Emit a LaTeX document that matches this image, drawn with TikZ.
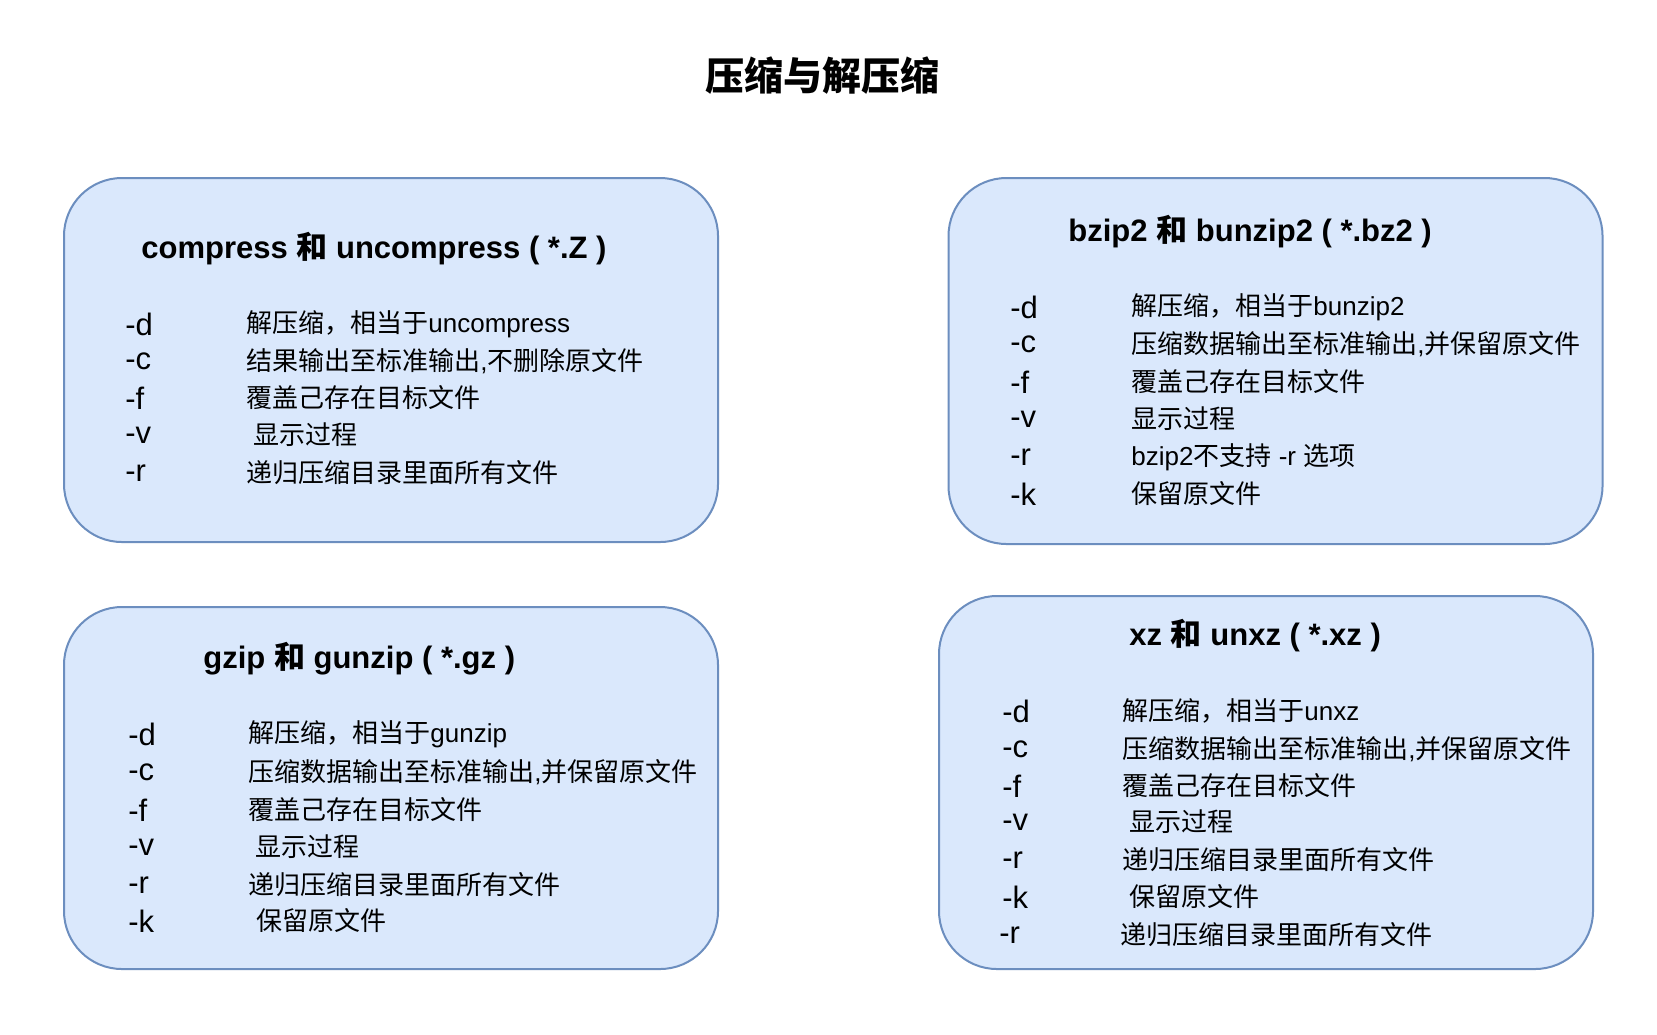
\documentclass[tikz,border=0pt]{standalone}
\usepackage{fontspec}
\setmainfont{Liberation Sans}
\newfontfamily\cjk{Noto Sans CJK SC}
\newcommand{\zhs}[1]{{\cjk #1}}
\definecolor{boxfill}{HTML}{DAE8FC}
\definecolor{boxline}{HTML}{6C8EBF}
\tikzset{
  box/.style={draw=boxline, fill=boxfill, line width=1pt, rounded corners=29pt,
    minimum width=327pt, inner sep=0pt},
  title/.style={inner sep=0pt, font=\fontsize{19.5}{22}\selectfont\bfseries},
  head/.style={anchor=west, inner sep=0pt, font=\fontsize{15.5}{18}\selectfont\bfseries},
  flag/.style={anchor=west, inner sep=0pt, font=\fontsize{15.5}{18}\selectfont},
  opt/.style={anchor=west, inner sep=0pt, font=\fontsize{13}{16}\selectfont},
}
\begin{document}
\begin{tikzpicture}[x=0.5pt, y=-0.5pt]
    \useasboundingbox[fill=white] (0,0) rectangle (1657,1034);

    % titolo
    \node[title] (title) at (822,76) {\zhs{压缩与解压缩}};

    % compress
    \node[box, minimum height=182pt] (boxZ) at (391,360) {};
    \node[head] (headZ) at (141,249) {compress \zhs{和} uncompress ( *.Z )};
    \foreach \y/\o/\t [count=\i] in {
        324/-d/{\zhs{解压缩，相当于}uncompress},
        361/-c/{\zhs{结果输出至标准输出}{,}\zhs{不删除原文件}},
        398/-f/{\zhs{覆盖己存在目标文件}},
        435/-v/{\hspace*{3.5pt}\zhs{显示过程}},
        473/-r/{\zhs{递归压缩目录里面所有文件}}}{
        \node[flag] (optZ\i) at (125,\y) {\o};
        \node[opt] (txtZ\i) at (246,\y) {\t};
    }

    % bzip2
    \node[box, minimum height=183pt] (boxB) at (1275.5,361) {};
    \node[head] (headB) at (1068,232) {bzip2 \zhs{和} bunzip2 ( *.bz2 )};
    \foreach \y/\o/\t [count=\i] in {
        307/-d/{\zhs{解压缩，相当于}bunzip2},
        344/-c/{\zhs{压缩数据输出至标准输出}{,}\zhs{并保留原文件}},
        382/-f/{\zhs{覆盖己存在目标文件}},
        419/-v/{\zhs{显示过程}},
        457/-r/{bzip2\zhs{不支持} -r \zhs{选项}},
        494/-k/{\zhs{保留原文件}}}{
        \node[flag] (optB\i) at (1010,\y) {\o};
        \node[opt] (txtB\i) at (1131,\y) {\t};
    }

    % gzip
    \node[box, minimum height=181pt] (boxG) at (391,788) {};
    \node[head] (headG) at (203,659) {gzip \zhs{和} gunzip ( *.gz )};
    \foreach \y/\o/\t [count=\i] in {
        734/-d/{\zhs{解压缩，相当于}gunzip},
        772/-c/{\zhs{压缩数据输出至标准输出}{,}\zhs{并保留原文件}},
        810/-f/{\zhs{覆盖己存在目标文件}},
        847/-v/{\hspace*{3.5pt}\zhs{显示过程}},
        885/-r/{\zhs{递归压缩目录里面所有文件}},
        921/-k/{\hspace*{4pt}\zhs{保留原文件}}}{
        \node[flag] (optG\i) at (128,\y) {\o};
        \node[opt] (txtG\i) at (248,\y) {\t};
    }

    % xz
    \node[box, minimum height=186.5pt] (boxX) at (1266,782.5) {};
    \node[head] (headX) at (1129,636) {xz \zhs{和} unxz ( *.xz )};
    \foreach \y/\o/\t [count=\i] in {
        711/-d/{\zhs{解压缩，相当于}unxz},
        749/-c/{\zhs{压缩数据输出至标准输出}{,}\zhs{并保留原文件}},
        786/-f/{\zhs{覆盖己存在目标文件}},
        822/-v/{\hspace*{3.5pt}\zhs{显示过程}},
        860/-r/{\zhs{递归压缩目录里面所有文件}},
        897/-k/{\hspace*{3.5pt}\zhs{保留原文件}}}{
        \node[flag] (optX\i) at (1002,\y) {\o};
        \node[opt] (txtX\i) at (1122,\y) {\t};
    }
    \node[flag] (optX7) at (999,935) {-r};
    \node[opt] (txtX7) at (1120,935) {\zhs{递归压缩目录里面所有文件}};
\end{tikzpicture}
\end{document}
